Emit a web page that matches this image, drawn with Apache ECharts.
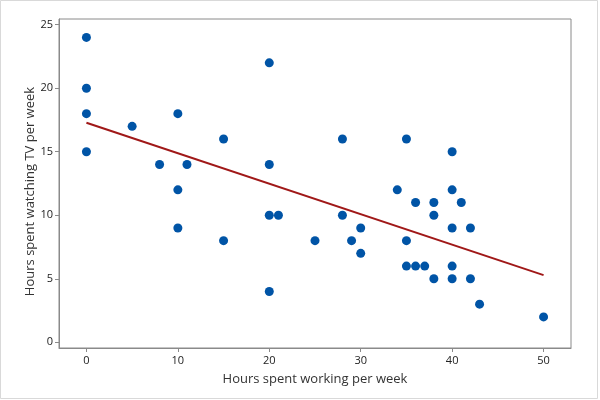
<!DOCTYPE html>
<html>
<head>
<meta charset="utf-8">
<script src="https://cdn.jsdelivr.net/npm/echarts@6/dist/echarts.min.js"></script>
<style>html,body{margin:0;padding:0;background:#fff}#c{width:600px;height:400px}</style>
</head>
<body>
<div id="c"></div>
<script>
// Hours spent working per week
const workHours = [0,0,0,0,5,8,10,10,10,11,15,15,20,20,20,20,21,25,28,28,29,30,30,34,35,35,35,36,36,37,38,38,38,40,40,40,40,40,41,42,42,43,50];
// Hours spent watching TV per week
const tvHours   = [24,20,18,15,17,14,18,12,9,14,16,8,22,14,10,4,10,8,16,10,8,9,7,12,16,8,6,11,6,6,11,10,5,15,12,9,6,5,11,9,5,3,2];
const xTicks = [0,10,20,30,40,50];
const yTicks = [0,5,10,15,20,25];
const xTitle = 'Hours spent working per week';
const yTitle = 'Hours spent watching TV per week';

// least-squares fit line
const n = workHours.length;
let sx=0, sy=0, sxx=0, sxy=0;
for (let i=0;i<n;i++){ sx+=workHours[i]; sy+=tvHours[i]; sxx+=workHours[i]*workHours[i]; sxy+=workHours[i]*tvHours[i]; }
const slope = (sxy - sx*sy/n) / (sxx - sx*sx/n);
const intercept = sy/n - slope*sx/n;
const xMin = Math.min(...workHours), xMax = Math.max(...workHours);
const fitLine = [[xMin, intercept + slope*xMin], [xMax, intercept + slope*xMax]];

const points = workHours.map((x,i)=>[x, tvHours[i]]);
const font = "'Segoe UI','Open Sans','Noto Sans',sans-serif";
const axisColor = '#8a8a8a';

const chart = echarts.init(document.getElementById('c'), null, {renderer:'canvas'});
chart.setOption({
  animation:false,
  backgroundColor:'#fff',
  graphic:[{type:'rect', shape:{x:0.5,y:0.5,width:597,height:398}, style:{fill:'none', stroke:'#d9d9d9', lineWidth:1}, silent:true, z:-1}],
  grid:{left:59, top:19, right:29, bottom:52, show:true, borderColor:axisColor, borderWidth:1, backgroundColor:'#fff'},
  xAxis:{
    type:'value', min:-3, max:53,
    name:xTitle, nameLocation:'middle', nameGap:25,
    nameTextStyle:{fontFamily:font, fontSize:13, color:'#333'},
    axisLine:{show:true, onZero:false, lineStyle:{color:axisColor}},
    axisTick:{show:true, length:4, lineStyle:{color:axisColor}, customValues:xTicks},
    axisLabel:{fontFamily:font, fontSize:11, color:'#222', margin:7, customValues:xTicks},
    splitLine:{show:false}
  },
  yAxis:{
    type:'value', min:-0.45, max:25.45,
    name:yTitle, nameLocation:'middle', nameGap:22, nameMoveOverlap:false,
    nameTextStyle:{fontFamily:font, fontSize:13, color:'#333', padding:[0,16,0,0]},
    axisLine:{show:true, onZero:false, lineStyle:{color:axisColor}},
    axisTick:{show:true, length:4, lineStyle:{color:axisColor}, customValues:yTicks},
    axisLabel:{fontFamily:font, fontSize:11, color:'#222', margin:6, customValues:yTicks},
    splitLine:{show:false}
  },
  series:[
    {type:'scatter', data:points, symbolSize:9, itemStyle:{color:'#0054a6', opacity:1}, z:2},
    {type:'line', data:fitLine, symbol:'none', lineStyle:{color:'#a01818', width:2}, z:3}
  ]
});
</script>
</body>
</html>
